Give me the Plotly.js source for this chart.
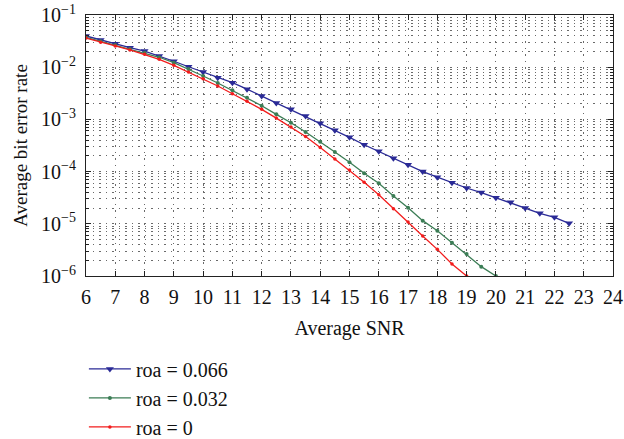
<!DOCTYPE html>
<html>
<head>
<meta charset="utf-8">
<script src="https://cdn.plot.ly/plotly-3.0.1.min.js"></script>
<style>html,body{margin:0;padding:0;background:#fff;}#chart{width:624px;height:439px;}</style>
</head>
<body>
<div id="chart"></div>
<script>
const snrBlue = [6,6.5,7,7.5,8,8.5,9,9.5,10,10.5,11,11.5,12,12.5,13,13.5,14,14.5,15,15.5,16,16.5,17,17.5,18,18.5,19,19.5,20,20.5,21,21.5,22,22.5];
const berBlue = [0.0396,0.0332,0.0280,0.0237,0.0204,0.0164,0.0130,0.0102,0.0081,0.0063,0.00505,0.0038,0.0028,0.00206,0.00156,0.00116,
  8.4e-4,6.2e-4,4.54e-4,3.27e-4,2.45e-4,1.80e-4,1.36e-4,1.0e-4,7.8e-5,6.1e-5,4.85e-5,3.97e-5,3.17e-5,2.58e-5,2.01e-5,1.59e-5,1.33e-5,1.02e-5];
const snrGreen = [6,6.5,7,7.5,8,8.5,9,9.5,10,10.5,11,11.5,12,12.5,13,13.5,14,14.5,15,15.5,16,16.5,17,17.5,18,18.5,19,19.5,20];
const berGreen = [0.0374,0.0313,0.0266,0.0223,0.0190,0.0155,0.0122,0.00924,0.00678,0.00498,0.00361,0.00260,0.00183,0.00125,8.65e-4,5.74e-4,
  3.74e-4,2.37e-4,1.51e-4,9.27e-5,5.97e-5,3.4e-5,2.03e-5,1.15e-5,7.38e-6,4.35e-6,2.64e-6,1.51e-6,1.0e-6];
const snrRed = [6,6.5,7,7.5,8,8.5,9,9.5,10,10.5,11,11.5,12,12.5,13,13.5,14,14.5,15,15.5,16,16.5,17,17.5,18,18.5,19];
const berRed = [0.0362,0.0300,0.0255,0.0214,0.01767,0.01417,0.01087,0.00809,0.00602,0.00437,0.0031,0.00222,0.00156,0.00106,7.15e-4,4.7e-4,
  2.9e-4,1.74e-4,1.07e-4,6.24e-5,3.61e-5,1.95e-5,1.08e-5,5.83e-6,3.24e-6,1.70e-6,1.0e-6];
const seriesNames = ['roa = 0.066','roa = 0.032','roa = 0'];
const xTicks = [6,7,8,9,10,11,12,13,14,15,16,17,18,19,20,21,22,23,24];
const yTickVals = [1e-6,1e-5,1e-4,1e-3,1e-2,1e-1];
const yTickText = ['10<sup>−6</sup>','10<sup>−5</sup>','10<sup>−4</sup>','10<sup>−3</sup>','10<sup>−2</sup>','10<sup>−1</sup>'];

const FONT = 'Liberation Serif, Times New Roman, serif';
const traces = [
  {x: snrBlue, y: berBlue, name: seriesNames[0], mode: 'lines+markers',
   line: {color: '#2a2a96', width: 1.3}, marker: {symbol: 'triangle-down', size: 7, color: '#2a2a96'}},
  {x: snrGreen, y: berGreen, name: seriesNames[1], mode: 'lines+markers',
   line: {color: '#3b7d55', width: 1.3}, marker: {symbol: 'circle', size: 4, color: '#3b7d55'}},
  {x: snrRed, y: berRed, name: seriesNames[2], mode: 'lines+markers',
   line: {color: '#f21c1c', width: 1.3}, marker: {symbol: 'circle', size: 3.5, color: '#f21c1c'}}
];
const GRIDC = '#6a6a6a';
const DASH = '1.5px,5px';
const layout = {
  width: 624, height: 439,
  margin: {l: 86, r: 11, t: 15, b: 163, autoexpand: false},
  paper_bgcolor: '#fff', plot_bgcolor: '#fff',
  font: {family: FONT, size: 20, color: '#111'},
  showlegend: true,
  legend: {xref: 'paper', yref: 'container', x: -0.004, y: 0.204, xanchor: 'left', yanchor: 'top',
           itemwidth: 42, font: {family: FONT, size: 20}, bgcolor: 'rgba(0,0,0,0)', tracegroupgap: 0},
  xaxis: {
    range: [6, 24], tickmode: 'array', tickvals: xTicks, ticktext: xTicks.map(String),
    ticks: 'inside', ticklen: 5, tickcolor: '#222', showline: true, linecolor: '#222', linewidth: 1, mirror: 'ticks',
    showgrid: true, gridcolor: GRIDC, griddash: DASH, gridwidth: 1, zeroline: false, automargin: false,
    tickfont: {family: FONT, size: 20}, ticklabelstandoff: 3,
    title: {text: 'Average SNR', font: {family: FONT, size: 20}, standoff: 13}
  },
  yaxis: {
    type: 'log', range: [-6, -1], tickmode: 'array', tickvals: yTickVals, ticktext: yTickText,
    ticks: 'inside', ticklen: 5, tickcolor: '#222', showline: true, linecolor: '#222', linewidth: 1, mirror: 'ticks',
    showgrid: true, gridcolor: GRIDC, griddash: DASH, gridwidth: 1, zeroline: false, automargin: false,
    tickfont: {family: FONT, size: 20}, ticklabelstandoff: 5,
    minor: {dtick: 'D1', ticks: 'inside', ticklen: 3, tickcolor: '#222', showgrid: true, gridcolor: GRIDC, griddash: DASH, gridwidth: 1},
    title: {text: 'Average bit error rate', font: {family: FONT, size: 19}, standoff: 8}
  }
};
Plotly.newPlot('chart', traces, layout, {displayModeBar: false, staticPlot: true});
</script>
</body>
</html>
